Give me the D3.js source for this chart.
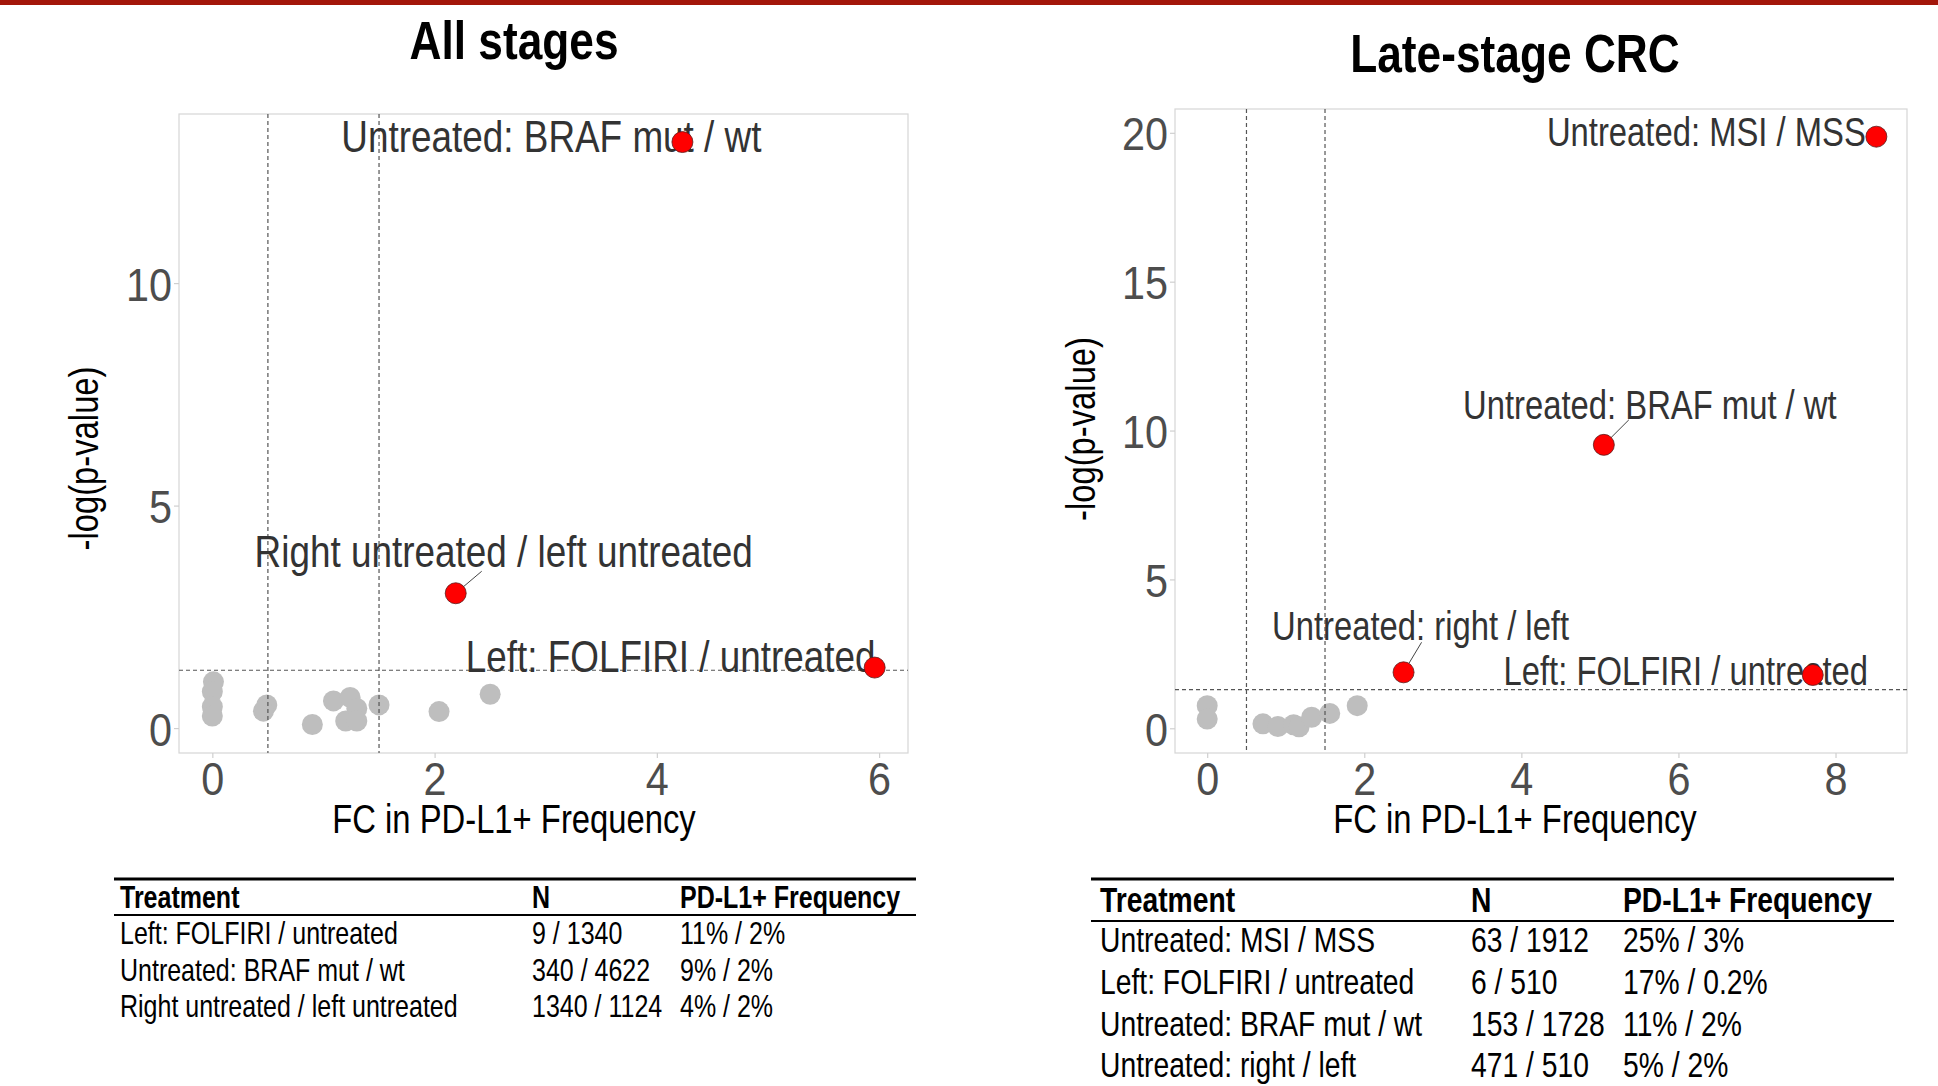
<!DOCTYPE html>
<html>
<head>
<meta charset="utf-8">
<script src="https://cdn.jsdelivr.net/npm/d3@7"></script>
<style>
  body { margin: 0; background: #fff; }
  text { font-family: "Liberation Sans", Arial, sans-serif; }
</style>
</head>
<body>
<div id="canvas"></div>
<script>
"use strict"

/* ---------- DATA: All stages ---------- */
let allFC      = [0.01, 0, 0, 0, 0.49, 0.46, 0.90, 1.09, 1.24, 1.30, 1.20, 1.30, 1.50, 2.04, 2.50];
let allLogP    = [1.04, 0.82, 0.48, 0.27, 0.52, 0.38, 0.08, 0.61, 0.69, 0.44, 0.16, 0.16, 0.52, 0.37, 0.76];
let allHitName = ["Untreated: BRAF mut / wt", "Right untreated / left untreated", "Left: FOLFIRI / untreated"];
let allHitFC   = [4.23, 2.19, 5.96];
let allHitLogP = [13.17, 3.03, 1.36];
let allXTicks  = [0, 2, 4, 6];
let allYTicks  = [0, 5, 10];

/* ---------- DATA: Late-stage CRC ---------- */
let lateFC      = [0, 0, 0.71, 0.90, 1.10, 1.17, 1.33, 1.56, 1.91];
let lateLogP    = [0.76, 0.31, 0.15, 0.06, 0.12, 0.05, 0.37, 0.50, 0.76];
let lateHitName = ["Untreated: MSI / MSS", "Untreated: BRAF mut / wt", "Untreated: right / left", "Left: FOLFIRI / untreated"];
let lateHitFC   = [8.52, 5.05, 2.50, 7.71];
let lateHitLogP = [19.87, 9.52, 1.88, 1.79];
let lateXTicks  = [0, 2, 4, 6, 8];
let lateYTicks  = [0, 5, 10, 15, 20];

/* thresholds */
let fcCuts = [0.5, 1.5];
let pCut = 1.3;

/* ---------- DATA: tables ---------- */
let tableHeader = ["Treatment", "N", "PD-L1+ Frequency"];
let allTreatment = ["Left: FOLFIRI / untreated", "Untreated: BRAF mut / wt", "Right untreated / left untreated"];
let allN         = ["9 / 1340", "340 / 4622", "1340 / 1124"];
let allFreq      = ["11% / 2%", "9% / 2%", "4% / 2%"];
let lateTreatment = ["Untreated: MSI / MSS", "Left: FOLFIRI / untreated", "Untreated: BRAF mut / wt", "Untreated: right / left"];
let lateN         = ["63 / 1912", "6 / 510", "153 / 1728", "471 / 510"];
let lateFreq      = ["25% / 3%", "17% / 0.2%", "11% / 2%", "5% / 2%"];

/* horizontal squeeze to mimic the narrow font of the original */
const SX = 0.82;
const TICK_SX = 0.88;

let drawing = d3.select("#canvas")
  .append("svg")
  .attr("width", 1938)
  .attr("height", 1086);

/* top red bar */
drawing.append("rect")
  .attr("x", 0).attr("y", 0)
  .attr("width", 1938).attr("height", 5)
  .attr("fill", "#a3160a");

function squeezedText(g, x, y, str) {
  return g.append("text")
    .attr("transform", `translate(${x},${y}) scale(${SX},1)`)
    .text(str);
}

/* one volcano panel */
function panel(opt) {
  let g = drawing.append("g");
  let x = d3.scaleLinear().domain(opt.xDomain).range([opt.left, opt.right]);
  let y = d3.scaleLinear().domain(opt.yDomain).range([opt.bottom, opt.top]);

  // border
  g.append("rect")
    .attr("x", opt.left).attr("y", opt.top)
    .attr("width", opt.right - opt.left).attr("height", opt.bottom - opt.top)
    .attr("fill", "none").attr("stroke", "#d6d6d6").attr("stroke-width", 1.2);

  // axes
  let xAxis = g.append("g")
    .attr("transform", `translate(0,${opt.bottom})`)
    .call(d3.axisBottom(x).tickValues(opt.xTicks).tickSize(5).tickPadding(4).tickFormat(d3.format("d")));
  let yAxis = g.append("g")
    .attr("transform", `translate(${opt.left},0)`)
    .call(d3.axisLeft(y).tickValues(opt.yTicks).tickSize(5).tickPadding(3).tickFormat(d3.format("d")));
  [xAxis, yAxis].forEach(a => {
    a.select(".domain").remove();
    a.selectAll(".tick line").attr("stroke", "#cfcfcf").attr("stroke-width", 1.2);
    a.selectAll(".tick text")
      .attr("fill", "#4d4d4d")
      .attr("font-size", 47)
      .attr("font-family", "Liberation Sans, Arial, sans-serif")
      .attr("transform", `scale(${TICK_SX},1)`);
  });
  yAxis.selectAll(".tick text").attr("dy", "0.36em");

  // grey (non significant) points
  g.selectAll(".grey")
    .data(opt.fc.map((d, i) => [d, opt.logp[i]]))
    .enter().append("circle")
    .attr("cx", d => x(d[0])).attr("cy", d => y(d[1]))
    .attr("r", 10.5).attr("fill", "#bebebe");

  // threshold lines
  opt.cuts.forEach(c => {
    g.append("line")
      .attr("x1", x(c)).attr("x2", x(c))
      .attr("y1", opt.top).attr("y2", opt.bottom)
      .attr("stroke", "#555").attr("stroke-width", 1.2).attr("stroke-dasharray", "4,3");
  });
  g.append("line")
    .attr("x1", opt.left).attr("x2", opt.right)
    .attr("y1", y(opt.pCut)).attr("y2", y(opt.pCut))
    .attr("stroke", "#555").attr("stroke-width", 1.2).attr("stroke-dasharray", "4,3");

  // labels for hits, then the points on top
  opt.hitName.forEach((name, i) => {
    let px = x(opt.hitFC[i]), py = y(opt.hitLogP[i]);
    let lay = opt.labels[i];
    squeezedText(g, px + lay.dx, py + lay.dy, name)
      .attr("text-anchor", "middle")
      .attr("font-size", opt.labelSize)
      .attr("fill", "#333");
    if (lay.seg) {
      let sx = px + lay.seg[0], sy = py + lay.seg[1];
      let len = Math.hypot(lay.seg[0], lay.seg[1]);
      g.append("line")
        .attr("x1", sx).attr("y1", sy)
        .attr("x2", px + lay.seg[0] / len * 10).attr("y2", py + lay.seg[1] / len * 10)
        .attr("stroke", "#444").attr("stroke-width", 1);
    }
  });
  g.selectAll(".hit")
    .data(opt.hitFC.map((d, i) => [d, opt.hitLogP[i]]))
    .enter().append("circle")
    .attr("cx", d => x(d[0])).attr("cy", d => y(d[1]))
    .attr("r", 10.5).attr("fill", "#ff0000")
    .attr("stroke", "#5a1a1a").attr("stroke-width", 0.8);

  // titles
  squeezedText(g, opt.titleX, opt.titleY, opt.title)
    .attr("text-anchor", "middle").attr("font-size", 54).attr("font-weight", "bold");
  squeezedText(g, opt.titleX, 833, "FC in PD-L1+ Frequency")
    .attr("text-anchor", "middle").attr("font-size", 40);
  g.append("text")
    .attr("transform", `translate(${opt.yTitleX},${(opt.top + opt.bottom) / 2 + opt.yTitleShift}) rotate(-90) scale(${SX},1)`)
    .attr("text-anchor", "middle").attr("font-size", 40)
    .text("-log(p-value)");
}

panel({
  title: "All stages", titleX: 514, titleY: 59,
  left: 179, right: 908, top: 114, bottom: 753,
  xDomain: [-0.3, 6.26], yDomain: [-0.56, 13.8],
  xTicks: allXTicks, yTicks: allYTicks,
  fc: allFC, logp: allLogP,
  hitName: allHitName, hitFC: allHitFC, hitLogP: allHitLogP,
  cuts: fcCuts, pCut: pCut,
  labelSize: 45,
  labels: [
    { dx: -131, dy: 10 },
    { dx: 48, dy: -26, seg: [26, -22] },
    { dx: -204, dy: 4 }
  ],
  yTitleX: 98, yTitleShift: 25
});

panel({
  title: "Late-stage CRC", titleX: 1515, titleY: 72,
  left: 1175, right: 1907, top: 109, bottom: 753,
  xDomain: [-0.41, 8.91], yDomain: [-0.83, 20.8],
  xTicks: lateXTicks, yTicks: lateYTicks,
  fc: lateFC, logp: lateLogP,
  hitName: lateHitName, hitFC: lateHitFC, hitLogP: lateHitLogP,
  cuts: fcCuts, pCut: pCut,
  labelSize: 40,
  labels: [
    { dx: -170, dy: 9 },
    { dx: 46, dy: -26, seg: [25, -25] },
    { dx: 17, dy: -32, seg: [18, -30] },
    { dx: -127, dy: 10 }
  ],
  yTitleX: 1095, yTitleShift: -2
});

/* ---------- tables ---------- */
function table(opt) {
  let g = drawing.append("g");
  g.append("line")
    .attr("x1", opt.x1).attr("x2", opt.x2).attr("y1", opt.top).attr("y2", opt.top)
    .attr("stroke", "#000").attr("stroke-width", 3);
  tableHeader.forEach((h, i) => {
    squeezedText(g, opt.cols[i], opt.headY, h)
      .attr("font-size", opt.size).attr("font-weight", "bold");
  });
  g.append("line")
    .attr("x1", opt.x1).attr("x2", opt.x2).attr("y1", opt.ruleY).attr("y2", opt.ruleY)
    .attr("stroke", "#000").attr("stroke-width", 2);
  let rowY = d3.scaleLinear().domain([0, 1]).range([opt.firstRow, opt.firstRow + opt.step]);
  [opt.treat, opt.n, opt.freq].forEach((col, c) => {
    col.forEach((v, r) => {
      squeezedText(g, opt.cols[c], rowY(r), v).attr("font-size", opt.size);
    });
  });
}

table({
  x1: 114, x2: 916, top: 879, headY: 908, ruleY: 915,
  cols: [120, 532, 680], firstRow: 944, step: 36.6, size: 30.5,
  treat: allTreatment, n: allN, freq: allFreq
});

table({
  x1: 1091, x2: 1894, top: 879, headY: 912, ruleY: 921,
  cols: [1100, 1471, 1623], firstRow: 952, step: 41.8, size: 34.5,
  treat: lateTreatment, n: lateN, freq: lateFreq
});
</script>
</body>
</html>
